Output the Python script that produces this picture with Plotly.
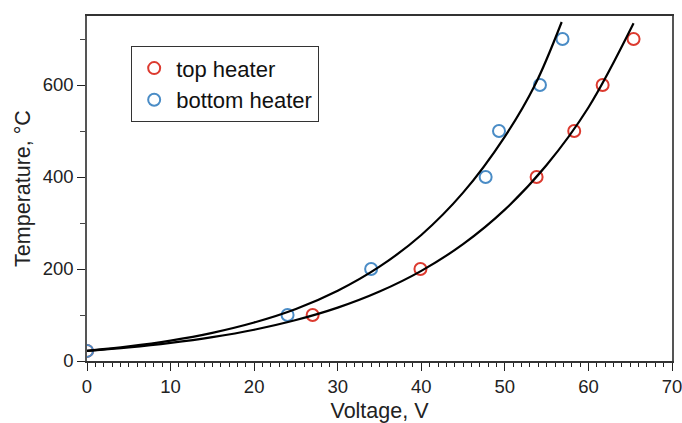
import plotly.graph_objects as go

# measured points
top_v = [0, 27.0, 39.9, 53.8, 58.3, 61.7, 65.4]
top_t = [22, 100, 200, 400, 500, 600, 700]
bot_v = [0, 24.0, 34.0, 47.7, 49.3, 54.2, 56.9]
bot_t = [22, 100, 200, 400, 500, 600, 700]

# fitted curves
top_fit_v = [0, 5, 10, 15, 20, 25, 30, 35, 40, 45, 50, 55, 60, 65.4]
top_fit_t = [22, 29.5, 39.3, 51.9, 68, 89, 116, 151, 196, 254, 329, 426, 551, 734]
bot_fit_v = [0, 5, 10, 15, 20, 25, 30, 35, 40, 45, 50, 53.6, 56.8]
bot_fit_t = [22, 31.6, 44.3, 61.2, 83.6, 113, 152.7, 205, 274, 366, 488, 600, 737]

x_ticks = [0, 10, 20, 30, 40, 50, 60, 70]
y_ticks = [0, 200, 400, 600]
y_minor = [100, 300, 500, 700]

RED = "#dc3a2f"
BLUE = "#4a8cc6"
FONT = "Liberation Sans, Arial, sans-serif"

fig = go.Figure()
fig.add_trace(go.Scatter(x=top_v, y=top_t, mode="markers", name="top heater",
                         marker=dict(symbol="circle-open", size=12, color=RED,
                                     line=dict(width=2, color=RED))))
fig.add_trace(go.Scatter(x=bot_v, y=bot_t, mode="markers", name="bottom heater",
                         marker=dict(symbol="circle-open", size=12, color=BLUE,
                                     line=dict(width=2, color=BLUE))))
fig.add_trace(go.Scatter(x=top_fit_v, y=top_fit_t, mode="lines", showlegend=False,
                         line=dict(color="black", width=2.2, shape="spline")))
fig.add_trace(go.Scatter(x=bot_fit_v, y=bot_fit_t, mode="lines", showlegend=False,
                         line=dict(color="black", width=2.2, shape="spline")))

fig.update_layout(
    width=682, height=423,
    margin=dict(l=87, r=10, t=16, b=62),
    paper_bgcolor="white", plot_bgcolor="white",
    font=dict(family=FONT, size=18, color="#222"),
    showlegend=True,
    legend=dict(x=0.075, y=0.913, xanchor="left", yanchor="top",
                bordercolor="#333", borderwidth=1.3, bgcolor="white",
                font=dict(size=22, family=FONT, color="#111"),
                tracegroupgap=0, itemwidth=34),
)
fig.update_xaxes(
    range=[0, 70], tickvals=x_ticks, ticks="outside", ticklen=8, tickwidth=1.3,
    tickcolor="#222", showline=True, linecolor="#333", linewidth=1.5, mirror=True,
    showgrid=False, zeroline=False, automargin=False, ticklabeloverflow="allow",
    minor=dict(dtick=1, ticks="outside", ticklen=4, tickwidth=1, tickcolor="#222"),
    title=dict(text="Voltage, V", font=dict(size=21.5), standoff=8),
    tickfont=dict(size=18.5),
)
fig.update_yaxes(
    range=[0, 750], tickvals=y_ticks, ticks="outside", ticklen=8, tickwidth=1.3,
    tickcolor="#222", showline=True, linecolor="#555", linewidth=1.5, mirror=True,
    showgrid=False, zeroline=False, automargin=False, ticklabeloverflow="allow",
    minor=dict(tickvals=y_minor, ticks="outside", ticklen=5, tickwidth=1, tickcolor="#444"),
    title=dict(text="Temperature, °C", font=dict(size=21.5), standoff=6),
    tickfont=dict(size=18.5),
)

fig.write_html("out.html")
